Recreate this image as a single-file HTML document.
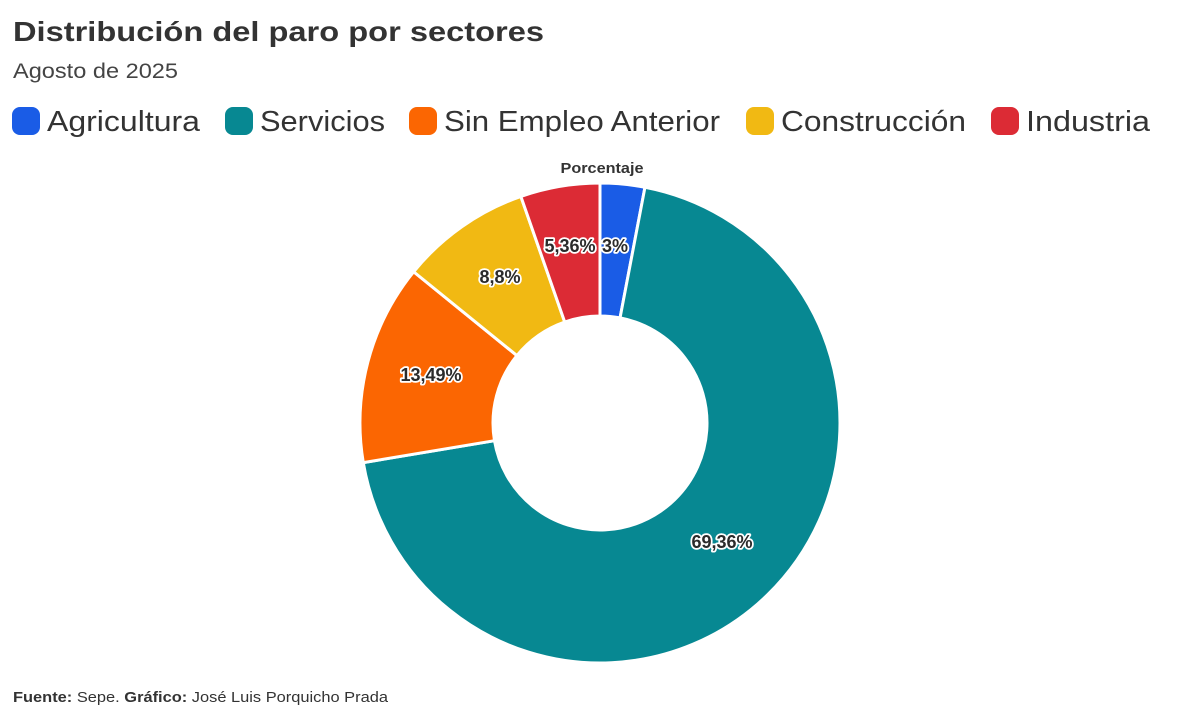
<!DOCTYPE html>
<html><head><meta charset="utf-8"><style>
html,body{margin:0;padding:0;background:#fff;}
svg{display:block;}
text{font-family:"Liberation Sans",Arial,sans-serif;}
</style></head><body>
<svg width="1200" height="719" viewBox="0 0 1200 719" xmlns="http://www.w3.org/2000/svg">
<rect width="1200" height="719" fill="#fff"/>
<text x="13" y="41" font-size="28" font-weight="bold" fill="#333" textLength="531" lengthAdjust="spacingAndGlyphs">Distribución del paro por sectores</text>
<text x="13" y="78" font-size="21" fill="#444" textLength="165" lengthAdjust="spacingAndGlyphs">Agosto de 2025</text>

<g font-size="29" fill="#333">
<rect x="12" y="107" width="28" height="28" rx="8" fill="#1a5ce6"/>
<text x="47" y="131" textLength="153" lengthAdjust="spacingAndGlyphs">Agricultura</text>
<rect x="225" y="107" width="28" height="28" rx="8" fill="#078892"/>
<text x="260" y="131" textLength="125" lengthAdjust="spacingAndGlyphs">Servicios</text>
<rect x="409" y="107" width="28" height="28" rx="8" fill="#fb6602"/>
<text x="444" y="131" textLength="276" lengthAdjust="spacingAndGlyphs">Sin Empleo Anterior</text>
<rect x="746" y="107" width="28" height="28" rx="8" fill="#f1b913"/>
<text x="781" y="131" textLength="185" lengthAdjust="spacingAndGlyphs">Construcción</text>
<rect x="991" y="107" width="28" height="28" rx="8" fill="#dc2b35"/>
<text x="1026" y="131" textLength="124" lengthAdjust="spacingAndGlyphs">Industria</text>
</g>

<text x="602" y="173" font-size="15" font-weight="bold" fill="#333" text-anchor="middle" textLength="83" lengthAdjust="spacingAndGlyphs">Porcentaje</text>

<g stroke="#fff" stroke-width="3" stroke-linejoin="round">
<path d="M600,183 A240,240 0 0 1 644.97,187.25 L620.05,317.90 A107,107 0 0 0 600,316 Z" fill="#1a5ce6"/>
<path d="M644.97,187.25 A240,240 0 1 1 363.29,462.63 L494.47,440.67 A107,107 0 1 0 620.05,317.90 Z" fill="#078892"/>
<path d="M363.29,462.63 A240,240 0 0 1 413.62,271.77 L516.91,355.58 A107,107 0 0 0 494.47,440.67 Z" fill="#fb6602"/>
<path d="M413.62,271.77 A240,240 0 0 1 520.84,196.43 L564.71,321.99 A107,107 0 0 0 516.91,355.58 Z" fill="#f1b913"/>
<path d="M520.84,196.43 A240,240 0 0 1 600,183 L600,316 A107,107 0 0 0 564.71,321.99 Z" fill="#dc2b35"/>
</g>

<g font-size="18" font-weight="bold" fill="#2b2b2b" stroke="#fff" stroke-width="3.5" stroke-linejoin="round" paint-order="stroke" text-anchor="middle">
<text x="615" y="252">3%</text>
<text x="570" y="252">5,36%</text>
<text x="500" y="283">8,8%</text>
<text x="431" y="381">13,49%</text>
<text x="722" y="548">69,36%</text>
</g>

<text x="13" y="702" font-size="15" fill="#333" textLength="375" lengthAdjust="spacingAndGlyphs"><tspan font-weight="bold">Fuente:</tspan> Sepe. <tspan font-weight="bold">Gráfico:</tspan> José Luis Porquicho Prada</text>
</svg>
</body></html>
